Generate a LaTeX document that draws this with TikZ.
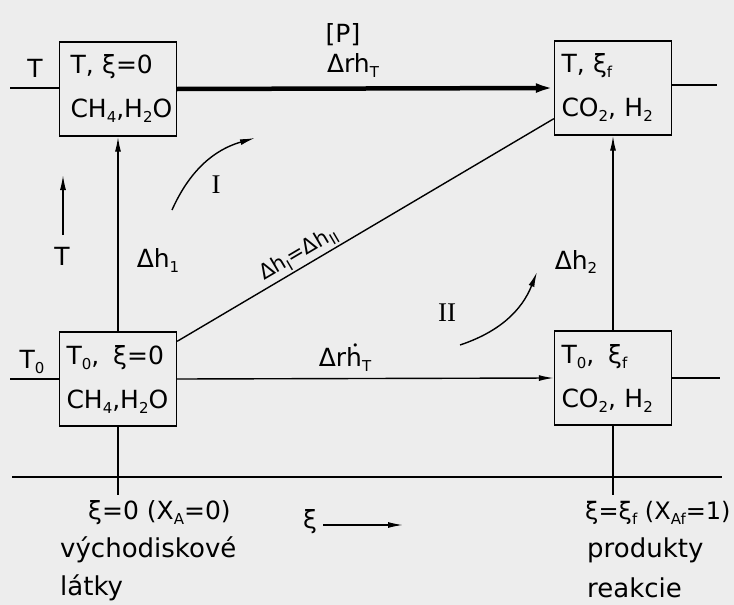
\documentclass[tikz,border=0pt]{standalone}
\usepackage{fontspec}
\setmainfont{DejaVu Sans}
\newfontfamily\romfont{Liberation Serif}
\usetikzlibrary{arrows.meta}
\newcommand{\lsub}[1]{\raisebox{-5pt}{\fontsize{15}{15}\selectfont #1}}
\newcommand{\hdot}{\makebox[0pt][l]{\hspace{6pt}\raisebox{17pt}{\fontsize{11}{11}\selectfont •}}h}
\begin{document}
\begin{tikzpicture}[x=1pt,y=-1pt,
  box/.style={draw,line width=1.4pt,minimum width=117pt,minimum height=94pt,
    text width=103pt,align=left,inner xsep=6pt,font=\fontsize{25}{44}\selectfont},
  lbl/.style={font=\fontsize{25}{28}\selectfont,inner sep=0pt},
  big/.style={font=\fontsize{26}{28}\selectfont,inner sep=0pt},
  ln/.style={line width=1.4pt},
  tip/.style={-{Latex[length=15pt,width=6pt]}},
]
\fill[black!7] (0,0) rectangle (734,605);
\useasboundingbox (0,0) rectangle (734,605);
% boxes
\node[box,text width=95pt,inner xsep=11pt] (TL) at (118,89) {T, ξ=0\\CH\lsub{4},H\lsub{2}O};
\node[box] (TR) at (613,88) {T, ξ\lsub{f}\\CO\lsub{2}, H\lsub{2}};
\node[box] (BL) at (118,379) {\mbox{T\lsub{0},\hspace{14pt}ξ=0}\\CH\lsub{4},H\lsub{2}O};
\node[box] (BR) at (613,378) {\mbox{T\lsub{0},\hspace{14pt}ξ\lsub{f}}\\CO\lsub{2}, H\lsub{2}};
% side lines
\coordinate (tlL) at (10,88);
\coordinate (trR) at (717,85);
\coordinate (blL) at (10,379);
\coordinate (brR) at (720,378);
\draw[ln] (tlL) -- (TL.west |- tlL);
\draw[ln] (TR.east |- trR) -- (trR);
\draw[ln] (blL) -- (BL.west);
\draw[ln] (BR.east) -- (brR);
% horizontal arrows
\draw[line width=4.5pt,-{Latex[length=18pt,width=10pt]}] (TL.east) -- (TR.west);
\draw[ln,tip] (BL.east) -- (BR.west);
% vertical arrows
\draw[ln,tip] (BL.north) -- (TL.south);
\draw[ln,tip] (BR.north) -- (TR.south);
% diagonal
\draw[ln] ([yshift=-10pt]BL.north east) -- ([yshift=17pt]TR.south west)
  node[pos=0.34,above=2pt,sloped,inner sep=0pt,font=\fontsize{21}{24}\selectfont] (dg) {Δh\lsub{I}=Δh\lsub{II}};
% axis
\coordinate (axL) at (12,477);
\coordinate (axR) at (722,477);
\draw[ln] (axL) -- (axR);
\coordinate (tk1) at (118,495);
\coordinate (tk2) at (613,495);
\draw[ln] (BL.south) -- (tk1);
\draw[ln] (BR.south) -- (tk2);
% cycle arcs
\coordinate (a1s) at (172,210);
\coordinate (a1e) at (255,138);
\draw[ln,tip] (a1s) to[bend left=25] (a1e);
\coordinate (a2s) at (460,345);
\coordinate (a2e) at (537,272);
\draw[ln,tip] (a2s) to[bend right=25] (a2e);
\node[lbl,font=\romfont\fontsize{27}{28}\selectfont] (cI) at (216,185) {I};
\node[lbl,font=\romfont\fontsize{27}{28}\selectfont] (cII) at (447,313) {II};
% T arrow
\coordinate (Ta) at (63,235);
\coordinate (Tb) at (63,175);
\draw[ln,tip] (Ta) -- (Tb);
\node[lbl] (lTarr) at (62,256) {T};
% labels
\node[lbl] (lT) at (35,68) {T};
\node[lbl] (lT0) at (32,362) {T\lsub{0}};
\node[lbl] (P) at (343,35) {[P]};
\node[lbl] (drhT) at (353,66) {Δrh\lsub{T}};
\node[lbl] (drh0) at (345,358) {Δr\hdot\lsub{T}};
\node[lbl] (dh1) at (158,261) {Δh\lsub{1}};
\node[lbl] (dh2) at (576,262) {Δh\lsub{2}};
% bottom texts
\node[lbl,anchor=west] (xi0) at (88,513) {ξ=0 (X\lsub{A}=0)};
\node[big,anchor=west] (vych) at (60,550) {východiskové};
\node[big,anchor=west] (lat) at (60,588) {látky};
\node[lbl] (xi) at (310,522) {ξ};
\coordinate (xa) at (323,525);
\coordinate (xb) at (403,525);
\draw[ln,tip] (xa) -- (xb);
\node[lbl,anchor=west,font=\fontsize{24}{28}\selectfont] (xif) at (585,513) {ξ=ξ\lsub{f} (X\lsub{Af}=1)};
\node[big,anchor=west] (prod) at (587,550) {produkty};
\node[big,anchor=west] (reak) at (587,588) {reakcie};
\end{tikzpicture}
\end{document}
